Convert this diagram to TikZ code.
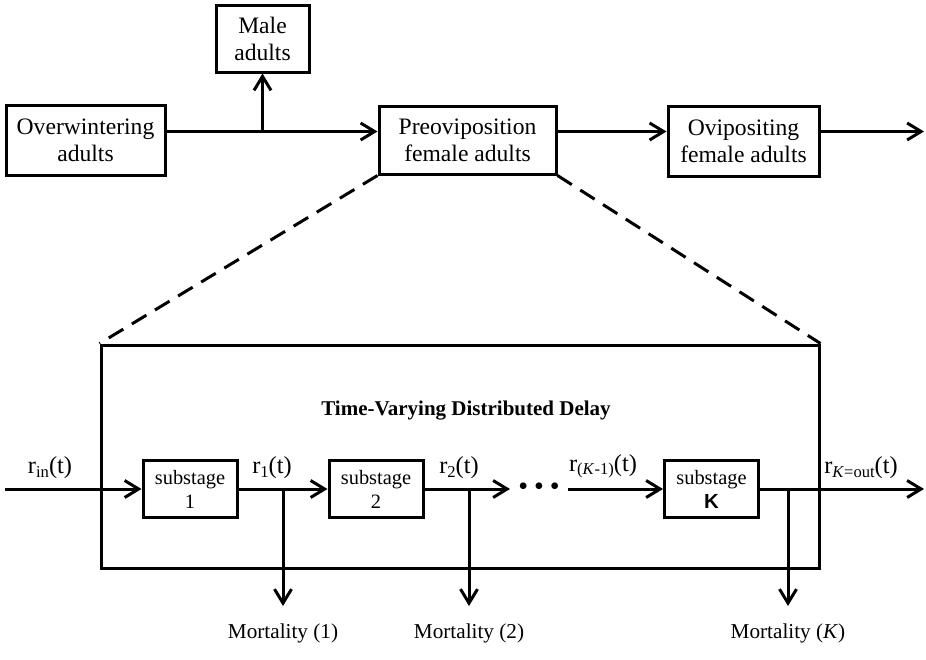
\documentclass[tikz,border=0pt]{standalone}
\usepackage{fontspec}
\setmainfont{Liberation Serif}
\newfontfamily\arialfont{Liberation Sans}
\usetikzlibrary{arrows.meta}

\newcommand{\rlabel}[1]{r\raisebox{-0.35ex}{\fontsize{8.3}{9}\selectfont #1}(t)}

\begin{document}
\begin{tikzpicture}[x=0.5pt, y=-0.5pt, line width=1.5pt,
  every node/.style={align=center},
  stage/.style={rectangle, draw, line width=1.5pt, inner sep=0pt, font=\fontsize{11.8}{13.5}\selectfont},
  substage/.style={rectangle, draw, line width=1.5pt, inner sep=0pt, minimum width=47pt, minimum height=28.5pt, font=\fontsize{10.2}{12}\selectfont},
  flow/.style={-{Straight Barb[length=7pt,width=8.5pt]}, line width=1.5pt},
  rate/.style={anchor=south, inner sep=2pt, font=\fontsize{12.2}{13}\selectfont},
  loss/.style={anchor=north, inner xsep=0pt, inner ysep=8pt, font=\fontsize{10.6}{12}\selectfont}
]
\useasboundingbox (0,0) rectangle (926,659);

% Life stages
\node[stage, minimum width=79.5pt, minimum height=35pt] (winter) at (85.5,140) {Overwintering\\adults};
\node[stage, minimum width=46.5pt, minimum height=33.5pt] (male) at (262.5,38.5) {Male\\adults};
\node[stage, minimum width=88.5pt, minimum height=34pt] (preov) at (467.5,140) {Preoviposition\\female adults};
\node[stage, minimum width=75.5pt, minimum height=35pt] (ovip) at (743.5,141) {Ovipositing\\female adults};

% Stage transitions
\coordinate (topline) at (0,131.5);
\coordinate (branch) at (262.5,131.5);
\coordinate (exit) at (924,131.5);
\draw[flow] (winter.east |- topline) -- (preov.west |- topline);
\draw[flow] (branch) -- (male);
\draw[flow] (preov.east |- topline) -- (ovip.west |- topline);
\draw[flow] (ovip.east |- topline) -- (exit);

% Delay block
\node[draw, line width=1.5pt, inner sep=0pt, minimum width=359pt, minimum height=111.5pt] (delay) at (460,456.5) {};
\node[font=\bfseries\fontsize{10.5}{12}\selectfont] (title) at (466,411) {Time-Varying Distributed Delay};

% Zoom lines
\draw[dash pattern=on 8.5pt off 5pt] (preov.south west) -- (delay.north west);
\draw[dash pattern=on 8.5pt off 5pt] (preov.south east) -- (delay.north east);

% Substages
\node[substage] (sub1) at (190,489) {substage\\1};
\node[substage] (sub2) at (376,489) {substage\\2};
\node[inner sep=0pt, minimum width=27.5pt, font=\fontsize{14}{14}\selectfont] (dots) at (539,489) {\textbullet\hspace{3pt}\textbullet\hspace{3pt}\textbullet};
\node[substage] (subK) at (711.5,489) {substage\\{\arialfont\bfseries K}};

% Flow through the substages
\coordinate (inlet) at (5,489);
\coordinate (outlet) at (924,489);
\draw[flow] (inlet) -- (sub1);
\draw[flow] (sub1) -- (sub2);
\draw[flow] (sub2) -- (dots);
\draw[flow] (dots) -- (subK);
\draw[flow] (subK) -- (outlet);

% Rates
\node[rate] (rin) at (50,484) {\rlabel{in}};
\node[rate] (r1) at (272,484) {\rlabel{1}};
\node[rate] (r2) at (459,484) {\rlabel{2}};
\node[rate] (rK1) at (603,484) {\rlabel{(\textit{K}-1)}};
\node[rate] (rout) at (861,484) {\rlabel{\textit{K}=out}};

% Mortality
\coordinate (m1) at (283,489);
\coordinate (m2) at (469,489);
\coordinate (mK) at (788,489);
\node[loss] (mort1) at (283,606) {Mortality (1)};
\node[loss] (mort2) at (469,606) {Mortality (2)};
\node[loss] (mortK) at (788,606) {Mortality (\textit{K})};
\draw[flow] (m1) -- (mort1);
\draw[flow] (m2) -- (mort2);
\draw[flow] (mK) -- (mortK);

\end{tikzpicture}
\end{document}
